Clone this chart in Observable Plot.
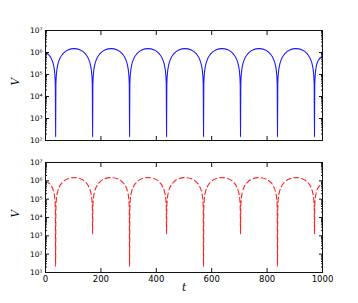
<!DOCTYPE html>
<html><head><meta charset="utf-8">
<script src="https://cdn.jsdelivr.net/npm/d3@7"></script>
<script src="https://cdn.jsdelivr.net/npm/@observablehq/plot@0.6"></script>
<style>
body{margin:0;background:#fff;}
#chart{width:358px;height:303px;overflow:hidden;}
#chart svg{display:block;}
</style></head><body><div id="chart"></div>
<script>
// time samples (t)
const t = [
0,10,22,29.5,33.5,35.5,36.5,
37.5,39.5,43.5,50.5,62.5,80.5,103,126,144,156,163,167,169,170,
171,173,177,184,196,214,237,259.5,277.5,289.5,296.5,300.5,302.5,303.5,
304.5,306.5,310.5,317.5,329.5,347.5,370,393,411,423,430,434,436,437,
438,440,444,451,463,481,504,526.5,544.5,556.5,563.5,567.5,569.5,570.5,
571.5,573.5,577.5,584.5,596.5,614.5,637,660,678,690,697,701,703,704,
705,707,711,718,730,748,771,793.5,811.5,823.5,830.5,834.5,836.5,837.5,
838.5,840.5,844.5,851.5,863.5,881.5,904,927,945,957,964,968,970,971,
972,974,978,985,1000];
// top panel (solid blue)
const vTop = [
1.0e6,8.2e5,5.0e5,2.5e5,1.06e5,3.5e4,150,
3.5e4,1.06e5,2.45e5,4.9e5,8.6e5,1.3e6,1.5e6,1.3e6,8.6e5,4.9e5,2.45e5,1.06e5,3.5e4,150,
3.5e4,1.06e5,2.45e5,4.9e5,8.6e5,1.3e6,1.5e6,1.3e6,8.6e5,4.9e5,2.45e5,1.06e5,3.5e4,150,
3.5e4,1.06e5,2.45e5,4.9e5,8.6e5,1.3e6,1.5e6,1.3e6,8.6e5,4.9e5,2.45e5,1.06e5,3.5e4,150,
3.5e4,1.06e5,2.45e5,4.9e5,8.6e5,1.3e6,1.5e6,1.3e6,8.6e5,4.9e5,2.45e5,1.06e5,3.5e4,150,
3.5e4,1.06e5,2.45e5,4.9e5,8.6e5,1.3e6,1.5e6,1.3e6,8.6e5,4.9e5,2.45e5,1.06e5,3.5e4,150,
3.5e4,1.06e5,2.45e5,4.9e5,8.6e5,1.3e6,1.5e6,1.3e6,8.6e5,4.9e5,2.45e5,1.06e5,3.5e4,150,
3.5e4,1.06e5,2.45e5,4.9e5,8.6e5,1.3e6,1.5e6,1.3e6,8.6e5,4.9e5,2.45e5,1.06e5,3.5e4,150,
3.5e4,1.06e5,2.45e5,4.4e5,6.8e5];
// bottom panel (dashed red)
const vBot = [
0.9e6,8.0e5,5.0e5,2.5e5,1.06e5,3.0e4,22,
3.0e4,1.06e5,2.45e5,4.9e5,8.6e5,1.3e6,1.5e6,1.3e6,8.6e5,4.9e5,2.45e5,1.1e5,4.0e4,1300,
4.0e4,1.1e5,2.45e5,4.9e5,8.6e5,1.3e6,1.5e6,1.3e6,8.6e5,4.9e5,2.45e5,1.06e5,3.0e4,22,
3.0e4,1.06e5,2.45e5,4.9e5,8.6e5,1.3e6,1.5e6,1.3e6,8.6e5,4.9e5,2.45e5,1.1e5,4.0e4,1300,
4.0e4,1.1e5,2.45e5,4.9e5,8.6e5,1.3e6,1.5e6,1.3e6,8.6e5,4.9e5,2.45e5,1.06e5,3.0e4,22,
3.0e4,1.06e5,2.45e5,4.9e5,8.6e5,1.3e6,1.5e6,1.3e6,8.6e5,4.9e5,2.45e5,1.1e5,4.0e4,1300,
4.0e4,1.1e5,2.45e5,4.9e5,8.6e5,1.3e6,1.5e6,1.3e6,8.6e5,4.9e5,2.45e5,1.06e5,3.0e4,22,
3.0e4,1.06e5,2.45e5,4.9e5,8.6e5,1.3e6,1.5e6,1.3e6,8.6e5,4.9e5,2.45e5,1.1e5,4.0e4,1300,
4.0e4,1.1e5,2.45e5,4.4e5,6.8e5];

const xTicks = [0,200,400,600,800,1000];
const yTicksTop = [1e2,1e3,1e4,1e5,1e6,1e7];
const yTicksBot = [1e1,1e2,1e3,1e4,1e5,1e6,1e7];
const yLabel = "V";
const xLabel = "t";

const sup = {"0":"\u2070","1":"\u00b9","2":"\u00b2","3":"\u00b3","4":"\u2074","5":"\u2075","6":"\u2076","7":"\u2077","8":"\u2078","9":"\u2079"};
const fmtPow = d => "10" + sup[String(Math.round(Math.log10(d)))];

const dataTop = t.map((x,i)=>({t:x, v:vTop[i]}));
const dataBot = t.map((x,i)=>({t:x, v:vBot[i]}));

function minorTicks(lo, hi){
  const out=[];
  for(let e=lo;e<hi;e++) for(let m=2;m<=9;m++) out.push(m*Math.pow(10,e));
  return out;
}

function panel({data, color, dash, yDomain, yTicks, height, marginTop, marginBottom, showX}){
  const minors = minorTicks(Math.round(Math.log10(yDomain[0])), Math.round(Math.log10(yDomain[1])));
  const tickStyle = {stroke:"#111"};
  return Plot.plot({
    width:358, height, marginLeft:45, marginRight:36, marginTop, marginBottom,
    style:{fontFamily:"DejaVu Sans", fontSize:"8px", color:"#000", background:"#fff"},
    x:{domain:[0,1000]},
    y:{type:"log", domain:yDomain},
    marks:[
      Plot.line(data,{x:"t", y:"v", stroke:color, strokeWidth:1.1, strokeDasharray:dash, curve:"monotone-x"}),
      Plot.axisY(yTicks,{anchor:"left", tickSize:-4, tickPadding:7, tickFormat:fmtPow, label:null, fontSize:7.5, fill:"#000", ...tickStyle}),
      Plot.axisY(yTicks,{anchor:"right", tickSize:-4, tickFormat:()=>"", label:null, ...tickStyle}),
      Plot.axisY(minors,{anchor:"left", tickSize:-2, tickFormat:()=>"", label:null, ...tickStyle}),
      Plot.axisY(minors,{anchor:"right", tickSize:-2, tickFormat:()=>"", label:null, ...tickStyle}),
      Plot.axisX(xTicks,{anchor:"bottom", tickSize:-4, tickPadding:7, tickFormat: showX ? (d=>String(d)) : (()=>""), label:null, fontSize:8.5, fill:"#000", ...tickStyle}),
      Plot.axisX(xTicks,{anchor:"top", tickSize:-4, tickFormat:()=>"", label:null, ...tickStyle}),
      Plot.frame({stroke:"#111", strokeWidth:1}),
      Plot.text([yLabel],{frameAnchor:"left", dx:-30, rotate:-90, fontFamily:"DejaVu Serif", fontStyle:"italic", fontSize:10.5, fill:"#000"}),
      ...(showX ? [Plot.text([xLabel],{frameAnchor:"bottom", dy:18, fontFamily:"DejaVu Serif", fontStyle:"italic", fontSize:10.5, fill:"#000"})] : [])
    ]
  });
}

const chart = document.getElementById("chart");
chart.append(panel({data:dataTop, color:"#1a1aff", dash:null, yDomain:[1e2,1e7], yTicks:yTicksTop, height:150, marginTop:30, marginBottom:10, showX:false}));
chart.append(panel({data:dataBot, color:"#ff2020", dash:"5,3", yDomain:[1e1,1e7], yTicks:yTicksBot, height:153, marginTop:12, marginBottom:31, showX:true}));
</script></body></html>
